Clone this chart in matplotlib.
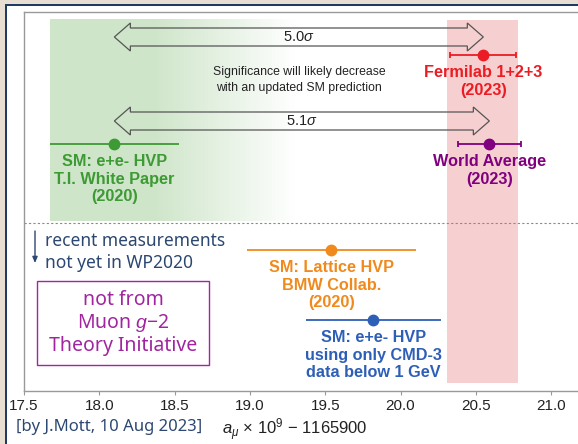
import matplotlib.pyplot as plt
import numpy as np
from matplotlib.patches import Rectangle, Polygon

plt.rcParams['mathtext.fontset'] = 'custom'
plt.rcParams['mathtext.rm'] = 'Liberation Sans'
plt.rcParams['mathtext.it'] = 'Liberation Sans:italic'

# a_mu x 1e9 - 1165900
names = ['Fermilab 1+2+3\n(2023)',
         'World Average\n(2023)',
         'SM: e+e- HVP\nT.I. White Paper\n(2020)',
         'SM: Lattice HVP\nBMW Collab.\n(2020)',
         'SM: e+e- HVP\nusing only CMD-3\ndata below 1 GeV']
values = [20.55, 20.59, 18.10, 19.54, 19.82]
errors = [0.22, 0.21, 0.43, 0.56, 0.45]
colors = ['#ec1c24', '#800080', '#3d9a34', '#f08a1d', '#2e5fb7']
capped = [True, True, False, False, False]

exp_band = (20.31, 20.78)

tension_labels = ['5.0$\\sigma$', '5.1$\\sigma$']
tension_lo = [18.10, 18.10]
tension_hi = [20.55, 20.59]

# layout, in pixels from the top of the slide
W, H = 578, 444
rows = [55, 144, 144, 250, 320]
tension_rows = [37, 121]
ppu = 150.6          # pixels per unit on the x axis
ax_left, ax_right, ax_top, ax_bottom = 24, 600, 12, 391

text_blue = '#2c4770'
box_purple = '#a0259f'


def fx(px):
    return px / W


def fy(py):
    return 1 - py / H


fig = plt.figure(figsize=(W / 100, H / 100), dpi=100)
fig.patch.set_facecolor('#e8ded2')
fig.patches.append(Rectangle((fx(5), 0), 1, fy(4), transform=fig.transFigure,
                             facecolor='#1f3b63', edgecolor='none', zorder=-10))
fig.patches.append(Rectangle((fx(7), 0), 1, fy(6), transform=fig.transFigure,
                             facecolor='white', edgecolor='none', zorder=-9))

ax = fig.add_axes([fx(ax_left), fy(ax_bottom), (ax_right - ax_left) / W,
                   (ax_bottom - ax_top) / H])
ax.set_facecolor('white')

# green band: SM white paper, fading to the right
g_lo, g_hi = values[2] - errors[2], 19.3
t = np.linspace(g_lo, g_hi, 300)
alpha = np.clip((g_hi - t) / (g_hi - 18.35), 0, 1)
grad = np.zeros((1, len(t), 4))
grad[..., 0], grad[..., 1], grad[..., 2] = 0.81, 0.90, 0.79
grad[..., 3] = alpha
ax.imshow(grad, extent=(g_lo, g_hi, 221, 20), aspect='auto', zorder=0,
          interpolation='bilinear')

# experimental band
ax.fill_betweenx([20, 383], exp_band[0], exp_band[1], color='#f6d0d0',
                 lw=0, zorder=0)

ax.axhline(223, color='#8a8a8a', lw=0.8, ls=(0, (2, 2)), zorder=1)

# hollow double arrows for the tension
hl, hh, th = 16 / ppu, 14, 9
for lab, x0, x1, y in zip(tension_labels, tension_lo, tension_hi, tension_rows):
    verts = [(x0, y), (x0 + hl, y - hh), (x0 + hl, y - th), (x1 - hl, y - th),
             (x1 - hl, y - hh), (x1, y), (x1 - hl, y + hh), (x1 - hl, y + th),
             (x0 + hl, y + th), (x0 + hl, y + hh)]
    ax.add_patch(Polygon(verts, closed=True, facecolor='none',
                         edgecolor='#555555', lw=0.9, zorder=2))
    ax.text((x0 + x1) / 2, y, lab, ha='center', va='center', fontsize=10.5,
            family='Liberation Sans', color='#222222', zorder=3)

ax.text((tension_lo[0] + tension_hi[0]) / 2, 80,
        'Significance will likely decrease\nwith an updated SM prediction',
        ha='center', va='center', fontsize=8.8, family='Liberation Sans',
        color='#222222', linespacing=1.35)

for name, v, e, c, y, cap in zip(names, values, errors, colors, rows, capped):
    ax.errorbar(v, y, xerr=e, fmt='o', color=c, ms=7.5, lw=1.3,
                capsize=2.5 if cap else 0, capthick=1.3, zorder=4)
    ax.text(v, y + 10, name, ha='center', va='top', color=c,
            fontweight='bold', fontsize=11.7, family='Liberation Sans',
            linespacing=1.22, zorder=4)

ax.set_xlim(17.5, 17.5 + (ax_right - ax_left) / ppu)
ax.set_ylim(ax_bottom, ax_top)
ax.set_xticks([17.5, 18.0, 18.5, 19.0, 19.5, 20.0, 20.5, 21.0])
ax.set_xticklabels(['17.5', '18.0', '18.5', '19.0', '19.5', '20.0', '20.5', '21.0'],
                   family='Liberation Sans', fontsize=11, color='#222222')
ax.set_yticks([])
ax.tick_params(axis='x', length=3, color='#999999', pad=3)
for s in ['left', 'top', 'bottom']:
    ax.spines[s].set_color('#999999')
    ax.spines[s].set_linewidth(1.0)
ax.spines['right'].set_visible(False)

# notes on the left
fig.text(fx(45), fy(252), 'recent measurements\nnot yet in WP2020',
         ha='left', va='center', fontsize=12.5, family='Noto Sans',
         color=text_blue, linespacing=1.3)
ax.annotate('', xy=(fx(35), fy(263)), xytext=(fx(35), fy(231)),
            xycoords='figure fraction', textcoords='figure fraction',
            arrowprops=dict(arrowstyle='-|>,head_length=0.35,head_width=0.15',
                            color=text_blue, lw=1.0, shrinkA=0, shrinkB=0))
fig.patches.append(Rectangle((fx(37), fy(365)), fx(209) - fx(37),
                             fy(281) - fy(365), transform=fig.transFigure,
                             facecolor='none', edgecolor=box_purple, lw=1.0))
fig.text(fx(123), fy(323), 'not from\nMuon $g$\u22122\nTheory Initiative',
         ha='center', va='center', fontsize=14, family='Noto Sans',
         color=box_purple, linespacing=1.12)

fig.text(fx(16), fy(427), '[by J.Mott, 10 Aug 2023]', ha='left', va='center',
         fontsize=12, family='Noto Sans', color=text_blue)
fig.text(fx(222), fy(430), '$a_\\mu$ \u00d7 10$^9$ \u2212 1165900', ha='left',
         va='center', fontsize=12, family='Liberation Sans', color='#222222')

fig.savefig('out.png', dpi=100, facecolor=fig.get_facecolor())
